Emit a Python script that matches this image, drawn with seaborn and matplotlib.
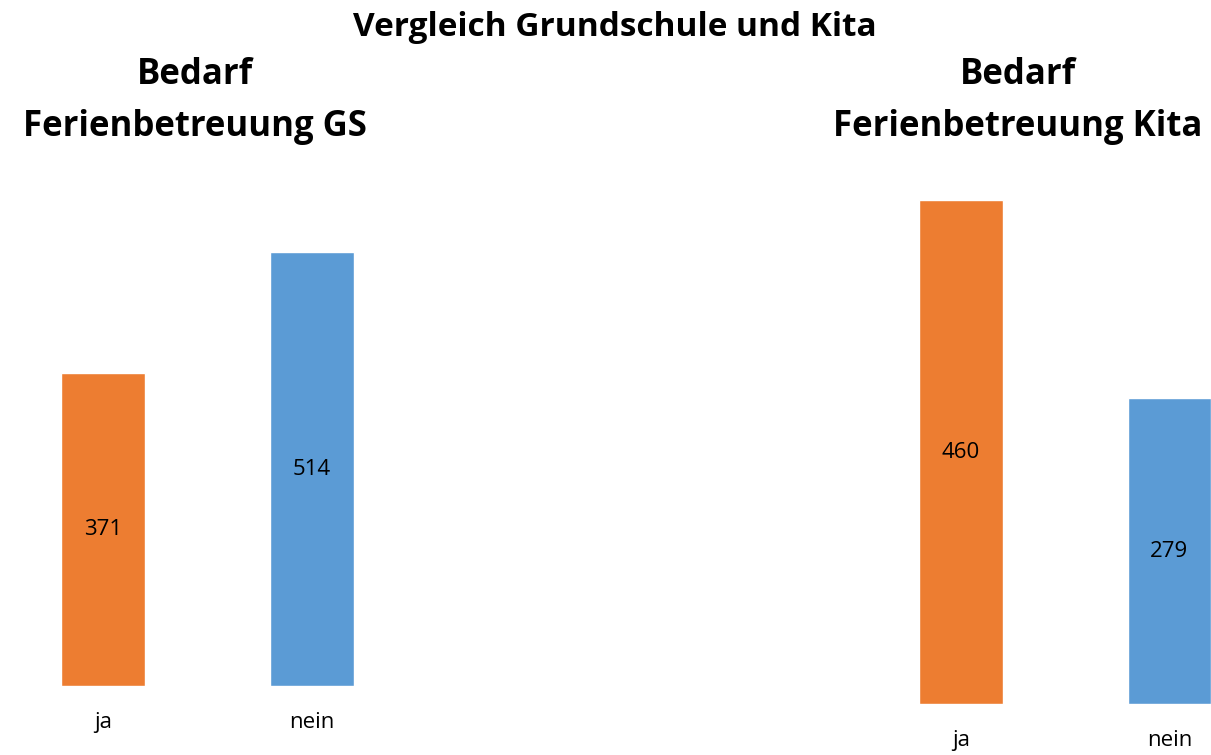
import matplotlib
matplotlib.use("Agg")
import matplotlib.pyplot as plt
import seaborn as sns
import pandas as pd

sns.set_style("white")
plt.rcParams['font.family'] = ['Open Sans', 'DejaVu Sans']
plt.rcParams['text.color'] = 'black'
plt.rcParams['xtick.color'] = 'black'

antworten = ["ja", "nein"]
gs_werte = [371, 514]
kita_werte = [460, 279]
farben = ["#ED7D31", "#5B9BD5"]

W, H = 1211, 755
fig = plt.figure(figsize=(W / 100, H / 100), dpi=100)

def panel(rect, werte, xlim, ylim):
    ax = fig.add_axes(rect)
    df = pd.DataFrame({"antwort": antworten, "anzahl": werte})
    sns.barplot(data=df, x="antwort", y="anzahl", hue="antwort", palette=farben,
                width=0.4, legend=False, saturation=1, ax=ax)
    for c in ax.containers:
        ax.bar_label(c, label_type="center", fontsize=16, color="black")
    ax.set_xlim(*xlim)
    ax.set_ylim(*ylim)
    ax.set_xlabel("")
    ax.set_ylabel("")
    ax.set_yticks([])
    ax.tick_params(axis="x", length=0, pad=19, labelsize=16, labelcolor="black")
    sns.despine(ax=ax, left=True, bottom=True)
    return ax

# Grundschule
panel([0.6 / W, (H - 686) / H, 413.8 / W, 600 * 0.844 / H], gs_werte, (-0.49, 1.49), (0, 600))
# Kita
panel([857 / W, (H - 704) / H, 354 / W, 500 * 1.095 / H], kita_werte, (-0.5, 1.2), (0, 500))

fig.text(615 / W, 1 - 27 / H, "Vergleich Grundschule und Kita", ha="center", va="center",
         fontsize=24, fontweight="bold")
fig.text(195 / W, 1 - 101 / H, "Bedarf\nFerienbetreuung GS", ha="center", va="center",
         fontsize=25, fontweight="bold", linespacing=1.6)
fig.text(1018 / W, 1 - 101 / H, "Bedarf\nFerienbetreuung Kita", ha="center", va="center",
         fontsize=25, fontweight="bold", linespacing=1.6)

fig.savefig("out.png", dpi=100)
